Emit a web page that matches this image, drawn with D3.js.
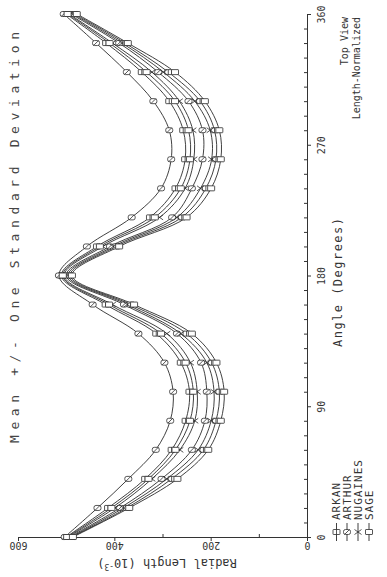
<!DOCTYPE html>
<html>
<head>
<meta charset="utf-8">
<script src="https://cdn.jsdelivr.net/npm/d3@7"></script>
<style>
  html, body { margin: 0; padding: 0; background: #fff; }
  svg { display: block; }
</style>
</head>
<body>
<svg id="chart" width="387" height="577"></svg>
<script>
// Sampling angles (degrees) around the kernel outline
const angles = [0, 20, 40, 60, 80, 100, 120, 140, 160, 180, 200, 220, 240, 260, 280, 300, 320, 340, 360];

// Radial length (x 10^-3), mean + 1 SD and mean - 1 SD for each variety
const arkanUpper    = [500, 413, 336, 281, 252, 244, 262, 313, 418, 510, 436, 326, 273, 253, 257, 286, 343, 417, 500];
const arkanLower    = [488, 374, 281, 215, 189, 182, 198, 250, 366, 492, 396, 260, 210, 189, 192, 222, 288, 378, 482];
const arthurUpper   = [503, 435, 371, 314, 284, 278, 296, 350, 445, 515, 457, 364, 303, 282, 286, 319, 374, 438, 505];
const arthurLower   = [493, 388, 302, 239, 212, 208, 220, 270, 380, 500, 409, 280, 239, 217, 217, 246, 309, 390, 490];
const nugainesUpper = [496, 399, 322, 264, 233, 228, 242, 291, 404, 504, 424, 306, 253, 235, 237, 265, 322, 404, 494];
const nugainesLower = [490, 381, 291, 226, 199, 193, 208, 262, 373, 496, 402, 270, 221, 198, 201, 233, 298, 384, 486];
const sageUpper     = [498, 406, 329, 273, 243, 236, 252, 303, 411, 507, 430, 316, 262, 243, 246, 274, 333, 410, 497];
const sageLower     = [486, 369, 269, 205, 179, 172, 188, 239, 359, 488, 390, 250, 199, 179, 182, 212, 274, 372, 478];

const varieties = ["ARKAN", "ARTHUR", "NUGAINES", "SAGE"];
const symbolKinds = ["barbox", "slashbox", "cross", "box"];

const radialTicks = [0, 200, 400, 600];
const radialMinorTicks = [100, 300, 500];
const angleTicks = [0, 90, 180, 270, 360];
const angleMinorTicks = d3.range(10, 360, 10).filter(a => a % 90 !== 0);

const curves = [
  { name: "ARKAN", kind: "barbox", values: arkanUpper },
  { name: "ARKAN", kind: "barbox", values: arkanLower },
  { name: "ARTHUR", kind: "slashbox", values: arthurUpper },
  { name: "ARTHUR", kind: "slashbox", values: arthurLower },
  { name: "NUGAINES", kind: "cross", values: nugainesUpper },
  { name: "NUGAINES", kind: "cross", values: nugainesLower },
  { name: "SAGE", kind: "box", values: sageUpper },
  { name: "SAGE", kind: "box", values: sageLower }
];

const FONT = "'DejaVu Sans Mono', 'Liberation Mono', monospace";
const INK = "#333";

const svg = d3.select("#chart");

// Radial length runs right-to-left along the bottom, angle runs bottom-to-top on the right
const x = d3.scaleLinear().domain([0, 600]).range([307, 18]);
const y = d3.scaleLinear().domain([0, 360]).range([537, 14]);

// ---- axes ----
const bottom = svg.append("g").attr("transform", "translate(0,537)");
bottom.call(d3.axisBottom(x).tickValues(radialTicks).tickSize(4).tickSizeOuter(0).tickFormat(d3.format("d")));
bottom.selectAll("text")
  .attr("y", null).attr("dy", null)
  .attr("transform", "translate(0,5) rotate(180)")
  .attr("text-anchor", "middle");

const bottomMinor = svg.append("g").attr("transform", "translate(0,537)");
bottomMinor.call(d3.axisBottom(x).tickValues(radialMinorTicks).tickSize(-3).tickFormat(""));
bottomMinor.select(".domain").remove();

const right = svg.append("g").attr("transform", "translate(307,0)");
right.call(d3.axisRight(y).tickValues(angleTicks).tickSize(4).tickSizeOuter(0).tickFormat(d3.format("d")));
right.selectAll("text")
  .attr("x", null).attr("dy", null)
  .attr("transform", "translate(18,0) rotate(-90)")
  .attr("text-anchor", "middle");

const rightMinor = svg.append("g").attr("transform", "translate(307,0)");
rightMinor.call(d3.axisRight(y).tickValues(angleMinorTicks).tickSize(-3).tickFormat(""));
rightMinor.select(".domain").remove();

svg.selectAll(".tick line, .domain").attr("stroke", INK).attr("stroke-width", 1);
svg.selectAll(".tick text")
  .attr("font-family", FONT).attr("font-size", 10).attr("fill", INK);

// ---- curves ----
const line = d3.line()
  .x(d => x(d.v))
  .y(d => y(d.a))
  .curve(d3.curveCatmullRom.alpha(0.5));

const plot = svg.append("g");
curves.forEach(c => {
  const pts = angles.map((a, i) => ({ a, v: c.values[i] }));
  plot.append("path")
    .datum(pts)
    .attr("d", line)
    .attr("fill", "none")
    .attr("stroke", "#2b2b2b")
    .attr("stroke-width", 0.9);
});

// ---- plotting symbols ----
function drawSymbol(g, kind, cx, cy) {
  const w = 7, h = 5;
  const s = g.append("g").attr("transform", `translate(${cx},${cy})`)
    .attr("fill", "#fff").attr("stroke", "#2b2b2b").attr("stroke-width", 0.8);
  if (kind === "cross") {
    s.append("path").attr("fill", "none")
      .attr("d", `M${-w/2},${-h/2}L${w/2},${h/2}M${-w/2},${h/2}L${w/2},${-h/2}`);
    return;
  }
  s.append("rect").attr("x", -w/2).attr("y", -h/2).attr("width", w).attr("height", h)
    .attr("rx", kind === "slashbox" ? 2 : 0.5);
  if (kind === "barbox") {
    s.append("path").attr("fill", "none").attr("d", `M0,${-h/2}L0,${h/2}`);
  } else if (kind === "slashbox") {
    s.append("path").attr("fill", "none").attr("d", `M${-w/2+1},${h/2}L${w/2-1},${-h/2}`);
  }
}

curves.forEach(c => {
  angles.forEach((a, i) => drawSymbol(plot, c.kind, x(c.values[i]), y(a)));
});

// ---- titles ----
svg.append("text")
  .attr("transform", "translate(19,443) rotate(-90)")
  .attr("font-family", FONT).attr("font-size", 13).attr("fill", "#444")
  .attr("textLength", 411).attr("lengthAdjust", "spacing")
  .text("Mean +/- One Standard Deviation");

const radialLabel = svg.append("text")
  .attr("transform", "translate(167,559) rotate(180)")
  .attr("text-anchor", "middle")
  .attr("font-family", FONT).attr("font-size", 12).attr("fill", INK);
radialLabel.append("tspan").text("Radial Length  (10");
radialLabel.append("tspan").attr("font-size", 8).attr("dy", -5).text("-3");
radialLabel.append("tspan").attr("dy", 5).text(")");

svg.append("text")
  .attr("transform", "translate(342,347) rotate(-90)")
  .attr("font-family", FONT).attr("font-size", 12).attr("fill", INK)
  .attr("textLength", 129).attr("lengthAdjust", "spacing")
  .text("Angle  (Degrees)");

svg.append("text")
  .attr("transform", "translate(348,17) rotate(-90)")
  .attr("text-anchor", "end")
  .attr("font-family", FONT).attr("font-size", 10).attr("fill", INK)
  .text("Top View");

svg.append("text")
  .attr("transform", "translate(360,17) rotate(-90)")
  .attr("text-anchor", "end")
  .attr("font-family", FONT).attr("font-size", 10).attr("fill", INK)
  .text("Length-Normalized");

// ---- legend ----
const legendBase = [340, 350.5, 361.5, 372.5];
varieties.forEach((name, i) => {
  const bx = legendBase[i];
  const lx = bx - 3.5;
  const g = svg.append("g");
  g.append("line")
    .attr("x1", lx).attr("x2", lx).attr("y1", 541).attr("y2", 523)
    .attr("stroke", "#2b2b2b").attr("stroke-width", 0.9);
  drawSymbol(g, symbolKinds[i], lx, 532);
  g.append("text")
    .attr("transform", `translate(${bx},520) rotate(-90)`)
    .attr("font-family", FONT).attr("font-size", 11).attr("letter-spacing", 1).attr("fill", INK)
    .text(name);
});
</script>
</body>
</html>
